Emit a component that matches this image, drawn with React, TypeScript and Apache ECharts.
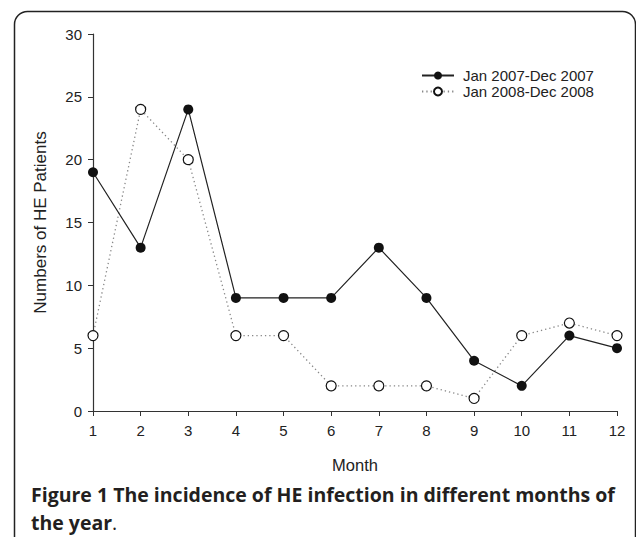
import React, { useEffect, useRef } from "react";
import * as echarts from "echarts";

const months = ["1", "2", "3", "4", "5", "6", "7", "8", "9", "10", "11", "12"];
const series2007 = [19, 13, 24, 9, 9, 9, 13, 9, 4, 2, 6, 5];
const series2008 = [6, 24, 20, 6, 6, 2, 2, 2, 1, 6, 7, 6];
const seriesNames = ["Jan 2007-Dec 2007", "Jan 2008-Dec 2008"];
const yTicks = { min: 0, max: 30, interval: 5 };
const xName = "Month";
const yName = "Numbers of HE Patients";
const captionBold = "Figure 1 The incidence of HE infection in different months of";
const captionLine2 = "the year";

export default function App() {
  const ref = useRef<HTMLDivElement>(null);
  useEffect(() => {
    document.body.style.margin = "0";
    const chart = echarts.init(ref.current!, null, { renderer: "svg" });
    const axisColor = "#333";
    const font = "'Liberation Sans', Arial, sans-serif";
    chart.setOption({
      animation: false,
      backgroundColor: "#fff",
      grid: { left: 93, right: 19, top: 34, bottom: 126 },
      legend: {
        orient: "vertical",
        left: 416,
        top: 63,
        itemWidth: 32,
        itemHeight: 10,
        itemGap: 1,
        textStyle: { fontFamily: font, fontSize: 15, color: "#222", padding: [0, 0, 0, 4] },
        data: seriesNames,
      },
      xAxis: {
        type: "category",
        data: months,
        boundaryGap: false,
        name: xName,
        nameLocation: "middle",
        nameGap: 45,
        nameTextStyle: { fontFamily: font, fontSize: 16.5, color: "#222" },
        axisLine: { lineStyle: { color: axisColor, width: 1.2 } },
        axisTick: { alignWithLabel: true, length: 5, lineStyle: { color: axisColor } },
        axisLabel: { fontFamily: font, fontSize: 15, color: "#222", margin: 12, interval: 0 },
        splitLine: { show: false },
      },
      yAxis: {
        type: "value",
        min: yTicks.min,
        max: yTicks.max,
        interval: yTicks.interval,
        name: yName,
        nameLocation: "middle",
        nameGap: 44,
        nameRotate: 90,
        nameTextStyle: { fontFamily: font, fontSize: 17, color: "#222" },
        axisLine: { show: true, lineStyle: { color: axisColor, width: 1.2 } },
        axisTick: { show: true, length: 5, lineStyle: { color: axisColor } },
        axisLabel: { fontFamily: font, fontSize: 15, color: "#222", margin: 11 },
        splitLine: { show: false },
      },
      series: [
        {
          name: seriesNames[1],
          type: "line",
          data: series2008,
          symbol: "circle",
          symbolSize: 10,
          z: 2,
          lineStyle: { color: "#888", width: 1.3, type: [1.3, 3] },
          itemStyle: { color: "#fff", borderColor: "#111", borderWidth: 1.2 },
        },
        {
          name: seriesNames[0],
          type: "line",
          data: series2007,
          symbol: "circle",
          symbolSize: 10,
          z: 3,
          lineStyle: { color: "#222", width: 1.2, type: "solid" },
          itemStyle: { color: "#111", borderColor: "#111", borderWidth: 0 },
        },
      ],
      graphic: [
        {
          type: "rect",
          shape: { x: 14.5, y: 11.5, width: 621, height: 600, r: 13 },
          style: { fill: "none", stroke: "#222", lineWidth: 1.5 },
          silent: true,
          z: -1,
        },
        {
          type: "text",
          x: 31,
          y: 484,
          style: {
            text: captionBold,
            font: "bold 19.5px 'Open Sans', sans-serif",
            fill: "#231f20",
          },
        },
        {
          type: "text",
          x: 31,
          y: 512,
          style: {
            text: "{b|" + captionLine2 + "}{n|.}",
            rich: {
              b: { font: "bold 19.5px 'Open Sans', sans-serif", fill: "#231f20" },
              n: { font: "19.5px 'Open Sans', sans-serif", fill: "#231f20" },
            },
          },
        },
      ],
    });
    return () => chart.dispose();
  }, []);
  return <div ref={ref} style={{ width: 636, height: 537 }} />;
}
